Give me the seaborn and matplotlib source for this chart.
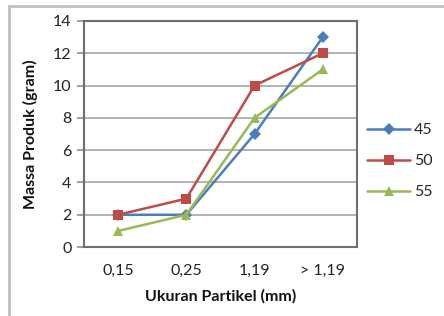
import matplotlib
matplotlib.use("Agg")
import matplotlib.pyplot as plt
import matplotlib.lines as mlines
import seaborn as sns
import pandas as pd

categories = ["0,15", "0,25", "1,19", "> 1,19"]
series_names = ["45", "50", "55"]
values_45 = [2, 2, 7, 13]
values_50 = [2, 3, 10, 12]
values_55 = [1, 2, 8, 11]

colors = ["#4A7EBB", "#BE4B48", "#98B954"]
markers = ["D", "s", "^"]

rows = []
for name, vals in zip(series_names, [values_45, values_50, values_55]):
    for c, v in zip(categories, vals):
        rows.append({"Ukuran": c, "Massa": v, "Seri": name})
df = pd.DataFrame(rows)
df["pos"] = df["Ukuran"].map({c: i for i, c in enumerate(categories)})

sns.set_theme(style="white")
plt.rcParams['font.family'] = ['Lato', 'DejaVu Sans']
fs = 11.5

fig = plt.figure(figsize=(4.44, 3.16), dpi=100)
ax = fig.add_axes([0.189, 0.218, 0.615, 0.716])

sns.lineplot(data=df, x="pos", y="Massa", hue="Seri", style="Seri",
             palette=colors, markers=markers, dashes=False, linewidth=1.8,
             markersize=6.5, markeredgewidth=0, ax=ax)

ax.set_xlim(-0.5, 3.5)
ax.set_ylim(0, 14)
ax.set_xticks(range(len(categories)))
ax.set_xticklabels(categories)
ax.set_yticks(range(0, 15, 2))
ax.yaxis.grid(True, color="#A6A6A6", linewidth=1.2)
ax.set_axisbelow(True)
for s in ax.spines.values():
    s.set_color("#6E6E6E")
    s.set_linewidth(1.5)
ax.tick_params(axis="y", length=5, width=1.2, color="#8C8C8C", labelsize=fs, pad=4, left=True)
ax.tick_params(axis="x", length=0, labelsize=fs, pad=12)
for t in ax.get_xticklabels() + ax.get_yticklabels():
    t.set_color("#222222")

ax.set_xlabel("Ukuran Partikel (mm)", fontsize=fs, fontweight="bold", labelpad=8, color="#111111")
ax.set_ylabel("Massa Produk (gram)", fontsize=fs, fontweight="bold", labelpad=11, color="#111111")

handles, labels = ax.get_legend_handles_labels()
leg = ax.legend(handles, labels, loc="center left", bbox_to_anchor=(1.0, 0.38),
                frameon=False, fontsize=fs, labelspacing=1.05, handlelength=2.75,
                handletextpad=0.2, borderaxespad=0.2)

# outer chart frame
fig.add_artist(mlines.Line2D([9 / 444, 1.0], [1 - 6 / 316, 1 - 6 / 316],
                             color="#BFBFBF", linewidth=2, transform=fig.transFigure))
fig.add_artist(mlines.Line2D([9 / 444, 9 / 444], [0, 1 - 6 / 316],
                             color="#BFBFBF", linewidth=2, transform=fig.transFigure))

fig.savefig("out.png", dpi=100)
